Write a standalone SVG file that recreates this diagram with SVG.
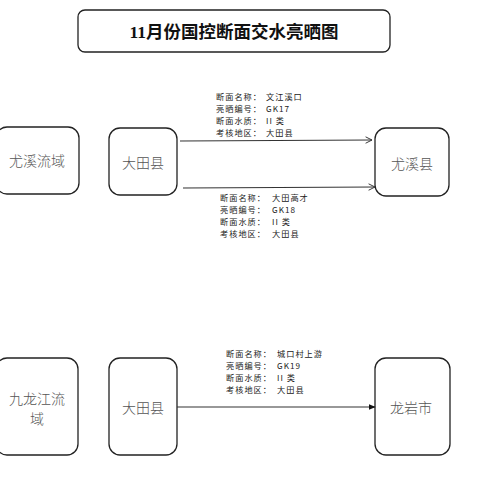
<svg xmlns="http://www.w3.org/2000/svg" width="480" height="480" viewBox="0 0 480 480">
<defs>
<marker id="open" viewBox="0 0 10 10" refX="9" refY="5" markerWidth="8" markerHeight="8" markerUnits="userSpaceOnUse" orient="auto">
<path d="M1,1 L9,5 L1,9" fill="none" stroke="#333" stroke-width="1.2"/>
</marker>
<marker id="solid" viewBox="0 0 10 10" refX="9" refY="5" markerWidth="7" markerHeight="7" markerUnits="userSpaceOnUse" orient="auto">
<path d="M0,1 L10,5 L0,9 Z" fill="#111"/>
</marker>
</defs>
<style>
.box{fill:#fff;stroke:#222;stroke-width:1.3}
.node{font-family:"Noto Sans CJK SC",sans-serif;font-size:14px;font-weight:300;fill:#555;text-anchor:middle;dominant-baseline:central}
.lbl{font-family:"Noto Sans CJK SC",sans-serif;font-size:8.2px;letter-spacing:1px;fill:#222;dominant-baseline:central}
.line{stroke:#333;stroke-width:1.1;fill:none}
</style>
<rect width="480" height="480" fill="#fff"/>
<g id="title">
<rect class="box" x="78" y="10" width="312" height="42" rx="7"/>
<text x="234" y="32" font-family="'Liberation Serif','Noto Sans CJK SC',serif" font-size="17.5" font-weight="bold" fill="#111" text-anchor="middle" dominant-baseline="central">11月份国控断面交水亮晒图</text>
</g>
<g id="n-youxi-basin">
<rect class="box" x="-4" y="127" width="83" height="67" rx="11"/>
<text class="node" x="37" y="160" font-size="14.5">尤溪流域</text>
</g>
<g id="n-datian-1">
<rect class="box" x="109" y="128" width="68" height="67" rx="11"/>
<text class="node" x="143" y="162">大田县</text>
</g>
<g id="n-youxi-county">
<rect class="box" x="375" y="128" width="74" height="68" rx="11"/>
<text class="node" x="412" y="163">尤溪县</text>
</g>
<g id="n-jiulong-basin">
<rect class="box" x="-4" y="358" width="82" height="97" rx="11"/>
<text class="node" x="37" y="398" font-size="13.5">九龙江流<tspan x="37" y="418">域</tspan></text>
</g>
<g id="n-datian-2">
<rect class="box" x="109" y="358" width="68" height="97" rx="11"/>
<text class="node" x="143" y="407">大田县</text>
</g>
<g id="n-longyan">
<rect class="box" x="375" y="358" width="75" height="97" rx="11"/>
<text class="node" x="411" y="407">龙岩市</text>
</g>
<g id="connectors">
<line class="line" x1="180" y1="141" x2="372" y2="140" marker-end="url(#open)"/>
<line class="line" x1="183" y1="188" x2="375" y2="187" marker-end="url(#open)"/>
<line class="line" x1="177" y1="407" x2="375" y2="407" marker-end="url(#solid)"/>
</g>
<g id="labels">
<text class="lbl" x="216" y="96">断面名称：<tspan x="266">文江溪口</tspan><tspan x="216" y="108">亮晒编号：</tspan><tspan x="266">GK17</tspan><tspan x="216" y="120">断面水质：</tspan><tspan x="266">II 类</tspan><tspan x="216" y="132">考核地区：</tspan><tspan x="266">大田县</tspan></text>
<text class="lbl" x="220" y="197">断面名称：<tspan x="272">大田高才</tspan><tspan x="220" y="209">亮晒编号：</tspan><tspan x="272">GK18</tspan><tspan x="220" y="221">断面水质：</tspan><tspan x="272">II 类</tspan><tspan x="220" y="233">考核地区：</tspan><tspan x="272">大田县</tspan></text>
<text class="lbl" x="226" y="353">断面名称：<tspan x="277">城口村上游</tspan><tspan x="226" y="365">亮晒编号：</tspan><tspan x="277">GK19</tspan><tspan x="226" y="377">断面水质：</tspan><tspan x="277">II 类</tspan><tspan x="226" y="389">考核地区：</tspan><tspan x="277">大田县</tspan></text>
</g>
</svg>
